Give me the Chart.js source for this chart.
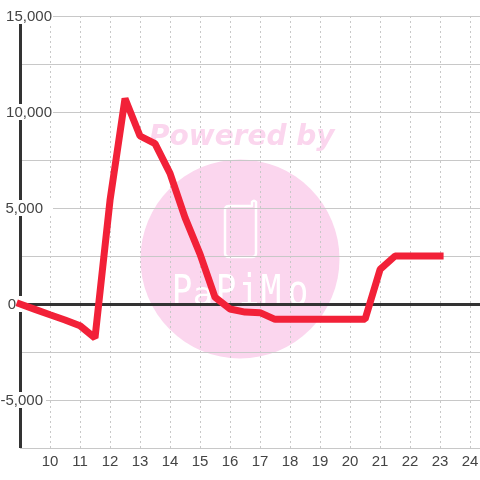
<!DOCTYPE html>
<html><head><meta charset="utf-8">
<style>html,body{margin:0;padding:0;background:#fff}#w{position:absolute;left:0;top:0;width:480px;height:480px}</style>
<script src="https://cdn.jsdelivr.net/npm/chart.js@4"></script></head>
<body><div id="w"><canvas id="c" width="480" height="480"></canvas></div>
<script>
const hours=[9,9.5,10,10.5,11,11.5,12,12.5,13,13.5,14,14.5,15,15.5,16,16.5,17,17.5,18,18.5,19,19.5,20,20.5,21,21.5,22,22.5,23];
const values=[0,-280,-560,-830,-1130,-1770,5400,10700,8750,8350,6800,4500,2600,350,-260,-420,-450,-800,-800,-800,-800,-800,-800,-800,1800,2500,2500,2500,2500];
const watermarkTitle="Powered by";
const watermarkName="PaPiMo";
const yLabelRightEdge={"15000":52,"10000":52,"5000":43,"0":16,"-5000":43};
const yLabelBoxEdge={"15000":53,"10000":53,"5000":53,"0":28,"-5000":46};
const fontName='"Liberation Sans",Arial,sans-serif';
const watermark={id:'watermark',beforeDraw(ch){
  const g=ch.ctx;g.save();
  g.fillStyle='#fff';g.fillRect(0,0,480,480);
  g.fillStyle='#fbd6ee';
  g.beginPath();g.arc(240,259,99.5,0,Math.PI*2);g.fill();
  g.font='italic bold 28px "DejaVu Sans",sans-serif';g.textAlign='left';g.textBaseline='alphabetic';
  g.fillText(watermarkTitle,149,145);
  g.strokeStyle='#fff';g.lineWidth=2.5;g.lineJoin='round';
  g.beginPath();
  g.moveTo(229,206);g.lineTo(252,206);g.lineTo(252,202);g.quadraticCurveTo(254,199.5,256,202);g.lineTo(256,253);g.quadraticCurveTo(256,257,252,257);
  g.lineTo(229,257);g.quadraticCurveTo(225,257,225,253);g.lineTo(225,210);g.quadraticCurveTo(225,206,229,206);g.stroke();
  g.fillStyle='#fff';g.lineWidth=1;g.font='38px "DejaVu Sans Mono",monospace';g.textAlign='center';
  const xs=[182,203,226,249,271,298];
  [...watermarkName].forEach((c,i)=>{g.save();g.translate(xs[i],305);g.scale(0.9,c==='a'?0.85:1.1);g.fillText(c,0,0);g.restore();});
  g.restore();
}};
const axisLines={id:'axisLines',beforeDatasetsDraw(ch){
  const g=ch.ctx,x=ch.scales.x,y=ch.scales.y;g.save();
  g.strokeStyle='#333';g.lineWidth=3;g.beginPath();
  const z=Math.round(y.getPixelForValue(0));
  g.moveTo(x.left,z+.5);g.lineTo(480,z+.5);
  g.moveTo(x.left+.5,y.top);g.lineTo(x.left+.5,y.bottom);g.stroke();
  g.font='15px '+fontName;g.textBaseline='middle';g.textAlign='right';
  y.ticks.forEach(t=>{
    const k=String(t.value),edge=yLabelRightEdge[k];if(edge===undefined)return;
    const p=y.getPixelForValue(t.value),w=g.measureText(t.label).width;
    g.fillStyle='#fff';
    g.fillRect(edge-w-1,p-8,yLabelBoxEdge[k]-edge+w+1,16);
    g.fillStyle='#444';g.fillText(t.label,edge,p+1);
  });
  g.restore();
}};
new Chart(document.getElementById('c'),{type:'line',
 data:{datasets:[{data:hours.map((h,i)=>({x:h,y:values[i]})),borderColor:'#f22138',borderWidth:7,pointRadius:0,tension:0,borderCapStyle:'square',borderJoinStyle:'bevel',clip:false}]},
 plugins:[watermark,axisLines],
 options:{responsive:false,animation:false,devicePixelRatio:1,
  layout:{padding:{top:16,left:0,right:0,bottom:0}},
  plugins:{legend:{display:false},tooltip:{enabled:false},title:{display:false}},
  scales:{
   x:{type:'linear',min:9,max:24.33,
     afterFit(a){a.height=32;a.paddingLeft=0;a.paddingRight=0},
     ticks:{stepSize:1,includeBounds:false,autoSkip:false,maxRotation:0,color:'#444',font:{family:fontName,size:15},padding:5,
       callback:v=>v>=10&&v<=24?String(v):''},
     grid:{color:'#c8c8c8',lineWidth:1,drawTicks:false},border:{display:false,dash:[2,3]}},
   y:{min:-7500,max:15000,
     afterFit(a){a.width=20},
     ticks:{stepSize:2500,display:false,callback:v=>v%5000===0?v.toLocaleString('en-US'):''},
     grid:{color:'#c8c8c8',lineWidth:1,drawTicks:false},border:{display:false}}
  }}});
</script></body></html>
